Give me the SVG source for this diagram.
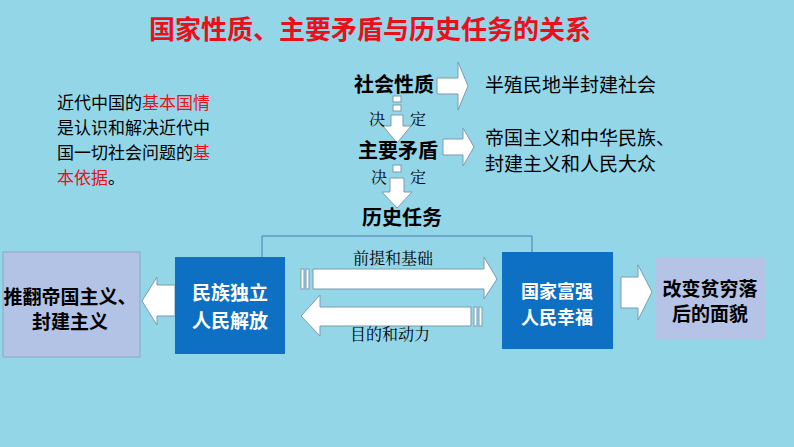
<svg xmlns="http://www.w3.org/2000/svg" width="794" height="447" viewBox="0 0 794 447">
<style>
text{font-family:"Noto Sans CJK SC","Noto Sans",sans-serif}
.b{font-weight:bold}
.k{font-family:"Noto Serif CJK SC","Noto Sans CJK SC",serif;font-size:16px}
.ar{fill:#fff;stroke:#7a9bb0;stroke-width:1}
</style>
<rect width="794" height="447" fill="#93d6e8"/>
<text x="370" y="39" text-anchor="middle" class="b" font-size="26" fill="#e8101a">国家性质、主要矛盾与历史任务的关系</text>
<g id="intro" font-size="17">
<text x="57" y="109"><tspan fill="#000">近代中国的</tspan><tspan fill="#e8101a">基本国情</tspan></text>
<text x="57" y="134">是认识和解决近代中</text>
<text x="57" y="159">国一切社会问题的<tspan fill="#e8101a">基</tspan></text>
<text x="57" y="184"><tspan fill="#e8101a">本依据</tspan>。</text>
</g>
<g id="connectors">
<path class="ar" d="M437,78 H458 V62 L468,86 L458,110 V94 H437 Z"/>
<path class="ar" d="M443,139 H463 V128 L474,147 L463,166 V155 H443 Z"/>
<rect class="ar" x="393" y="96" width="8" height="6"/><rect class="ar" x="393" y="105" width="8" height="6"/>
<path class="ar" d="M391,115 H403 V126 H411 L397,143 L383,126 H391 Z"/>
<rect class="ar" x="393" y="165" width="8" height="7"/>
<path class="ar" d="M390,178 H404 V192 H412 L397,208 L382,192 H390 Z"/>
<polyline points="262,257 262,236 532,236 532,252" fill="none" stroke="#4a7ab5" stroke-width="1"/>
<path class="ar" d="M175,285 H157 V277 L142,301 L157,325 V316 H175 Z"/>
<path class="ar" d="M313,269 H484 V257 L497,279 L484,299 V289 H313 Z"/>
<rect class="ar" x="301" y="269" width="3" height="20"/><rect class="ar" x="306" y="269" width="3" height="20"/>
<path class="ar" d="M471,307 H320 V295 L301,316 L320,336 V326 H471 Z"/>
<rect class="ar" x="474" y="307" width="3" height="19"/><rect class="ar" x="479" y="307" width="3" height="19"/>
<path class="ar" d="M621,277 H638 V265 L652,292 L638,320 V308 H621 Z"/>
</g>
<text x="394" y="92" text-anchor="middle" class="b" font-size="20">社会性质</text>
<text x="485" y="92" font-size="19">半殖民地半封建社会</text>
<text x="377" y="125" class="k" text-anchor="middle">决</text><text x="418" y="125" class="k" text-anchor="middle">定</text>
<text x="398" y="158" text-anchor="middle" class="b" font-size="20">主要矛盾</text>
<text x="485" y="145" font-size="19">帝国主义和中华民族、</text>
<text x="485" y="171" font-size="19">封建主义和人民大众</text>
<text x="379" y="183" class="k" text-anchor="middle">决</text><text x="418" y="183" class="k" text-anchor="middle">定</text>
<text x="402" y="225" text-anchor="middle" class="b" font-size="20">历史任务</text>
<text x="393" y="264" class="k" text-anchor="middle">前提和基础</text>
<text x="390" y="340" class="k" text-anchor="middle">目的和动力</text>
<g id="n1"><rect x="3" y="252" width="137" height="105" fill="#b3c3e6" stroke="#8ea3c8"/>
<text x="70" y="304" text-anchor="middle" class="b" font-size="19">推翻帝国主义、</text>
<text x="70" y="329" text-anchor="middle" class="b" font-size="19">封建主义</text></g>
<g id="n2"><rect x="175" y="257" width="110" height="97" fill="#0d70c3"/>
<text x="230" y="300" text-anchor="middle" class="b" font-size="19" fill="#fff">民族独立</text>
<text x="230" y="328" text-anchor="middle" class="b" font-size="19" fill="#fff">人民解放</text></g>
<g id="n3"><rect x="502" y="252" width="111" height="97" fill="#0d70c3"/>
<text x="557" y="298" text-anchor="middle" class="b" font-size="18" fill="#fff">国家富强</text>
<text x="557" y="324" text-anchor="middle" class="b" font-size="18" fill="#fff">人民幸福</text></g>
<g id="n4"><rect x="655" y="257" width="110" height="83" fill="#b4c3e6"/>
<text x="710" y="296" text-anchor="middle" class="b" font-size="19">改变贫穷落</text>
<text x="710" y="321" text-anchor="middle" class="b" font-size="19">后的面貌</text></g>
</svg>
